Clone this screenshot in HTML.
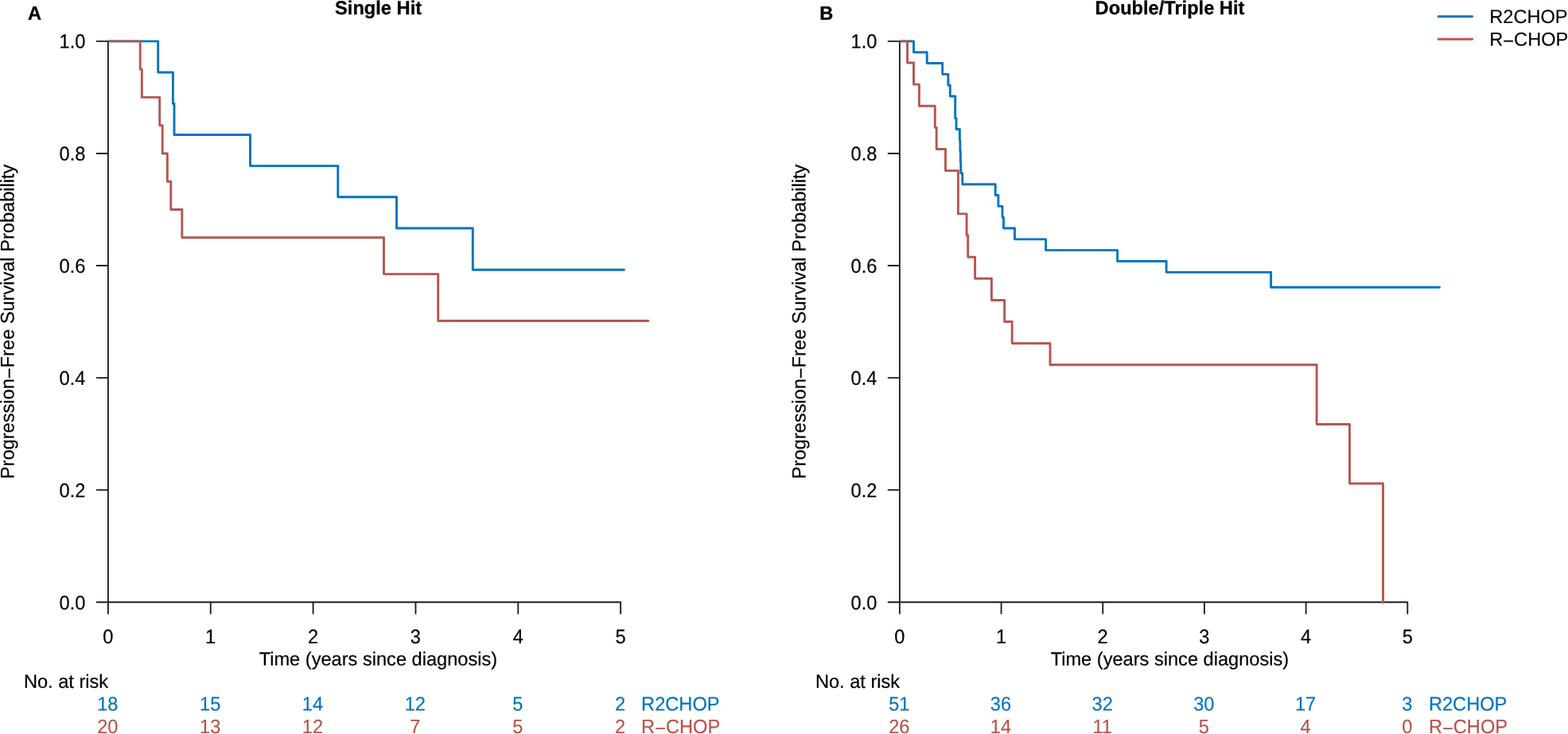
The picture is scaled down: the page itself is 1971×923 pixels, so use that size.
<!DOCTYPE html>
<html lang="en">
<head>
<meta charset="utf-8">
<title>Progression-Free Survival: Single Hit vs Double/Triple Hit</title>
<style>
html,body{margin:0;padding:0;background:#fff;}
body{width:1971px;height:923px;overflow:hidden;}
svg{display:block;}
text{font-family:"Liberation Sans",sans-serif;fill:#000;}
.l{font-size:24.05px;stroke:#000;stroke-width:0.15px;}
.d{font-size:25px;stroke:#000;stroke-width:0.2px;}
.r{font-size:24.7px;stroke:#000;stroke-width:0.2px;}
.t{font-size:23.9px;stroke:#000;stroke-width:0.2px;text-rendering:geometricPrecision;}
.b{font-size:24px;font-weight:bold;stroke:#000;stroke-width:0.3px;}
.m{text-anchor:middle;}
.e{text-anchor:end;}
.blue{fill:#0075BF;stroke:#0075BF;}
.red{fill:#B6564F;stroke:#B6564F;}
.ax{stroke:#1c1c1c;stroke-width:1.85;fill:none;stroke-linecap:round;}
.cb{stroke:#0075BF;stroke-width:2.9;fill:none;stroke-linecap:round;stroke-linejoin:round;}
.cr{stroke:#B6564F;stroke-width:2.9;fill:none;stroke-linecap:round;stroke-linejoin:round;}
</style>
</head>
<body>
<svg width="1971" height="923" viewBox="0 0 1971 923">
<rect x="0" y="0" width="1971" height="923" fill="#ffffff"/>
<g>
<text class="b" transform="translate(35.10,24.80) rotate(0.03) scale(0.985,1)">A</text>
<text class="b m" transform="translate(475.60,17.95) rotate(0.03) scale(0.985,1)">Single Hit</text>
<path class="ax" d="M135.90,51.88 V757.25 M121.60,757.25 H135.90 M121.60,616.18 H135.90 M121.60,475.10 H135.90 M121.60,334.03 H135.90 M121.60,192.95 H135.90 M121.60,51.88 H135.90 M135.90,757.25 H780.15 M135.90,757.25 V771.55 M264.75,757.25 V771.55 M393.60,757.25 V771.55 M522.45,757.25 V771.55 M651.30,757.25 V771.55 M780.15,757.25 V771.55"/>
<text class="d e" transform="translate(107.40,766.50) rotate(0.03) scale(0.945,1)">0.0</text>
<text class="d e" transform="translate(107.40,625.30) rotate(0.03) scale(0.945,1)">0.2</text>
<text class="d e" transform="translate(107.40,484.10) rotate(0.03) scale(0.945,1)">0.4</text>
<text class="d e" transform="translate(107.40,342.90) rotate(0.03) scale(0.945,1)">0.6</text>
<text class="d e" transform="translate(107.40,201.70) rotate(0.03) scale(0.945,1)">0.8</text>
<text class="d e" transform="translate(107.40,60.50) rotate(0.03) scale(0.945,1)">1.0</text>
<text class="d m" transform="translate(135.80,809.00) rotate(0.03) scale(0.945,1)">0</text>
<text class="d m" transform="translate(264.65,809.00) rotate(0.03) scale(0.945,1)">1</text>
<text class="d m" transform="translate(393.50,809.00) rotate(0.03) scale(0.945,1)">2</text>
<text class="d m" transform="translate(522.35,809.00) rotate(0.03) scale(0.945,1)">3</text>
<text class="d m" transform="translate(651.20,809.00) rotate(0.03) scale(0.945,1)">4</text>
<text class="d m" transform="translate(780.05,809.00) rotate(0.03) scale(0.945,1)">5</text>
<text class="t m" transform="translate(475.40,836.80) rotate(0.03) scale(0.988,1)">Time (years since diagnosis)</text>
<text class="t m" transform="translate(17.50,404.40) rotate(-90.03) scale(0.988,1)">Progression<tspan dy="2.3">−</tspan><tspan dy="-2.3">Free Survival Probability</tspan></text>
<clipPath id="clipA"><rect x="136.10" y="0" width="760" height="923"/></clipPath>
<g clip-path="url(#clipA)">
<path class="cb" d="M135.90,51.88 H198.70 V91.07 H217.40 V130.25 H219.00 V169.44 H314.50 V208.63 H424.80 V247.82 H498.50 V287.00 H594.30 V339.25 H784.40"/>
<path class="cr" d="M135.90,51.88 H176.20 V87.15 H178.30 V122.42 H200.70 V157.69 H204.20 V192.95 H210.30 V228.22 H214.80 V263.49 H228.80 V298.76 H482.50 V344.61 H550.70 V403.56 H814.80"/>
</g>
<text class="t" transform="translate(29.90,864.90) rotate(0.03) scale(0.988,1)">No. at risk</text>
<text class="r m blue" transform="translate(135.30,893.50) rotate(0.03) scale(0.957,1)">18</text>
<text class="r m blue" transform="translate(264.15,893.50) rotate(0.03) scale(0.957,1)">15</text>
<text class="r m blue" transform="translate(393.00,893.50) rotate(0.03) scale(0.957,1)">14</text>
<text class="r m blue" transform="translate(521.85,893.50) rotate(0.03) scale(0.957,1)">12</text>
<text class="r m blue" transform="translate(650.70,893.50) rotate(0.03) scale(0.957,1)">5</text>
<text class="r m blue" transform="translate(779.55,893.50) rotate(0.03) scale(0.957,1)">2</text>
<text class="r blue" transform="translate(806.10,893.50) rotate(0.03) scale(0.957,1)">R2CHOP</text>
<text class="r m red" transform="translate(135.30,921.95) rotate(0.03) scale(0.957,1)">20</text>
<text class="r m red" transform="translate(264.15,921.95) rotate(0.03) scale(0.957,1)">13</text>
<text class="r m red" transform="translate(393.00,921.95) rotate(0.03) scale(0.957,1)">12</text>
<text class="r m red" transform="translate(521.85,921.95) rotate(0.03) scale(0.957,1)">7</text>
<text class="r m red" transform="translate(650.70,921.95) rotate(0.03) scale(0.957,1)">5</text>
<text class="r m red" transform="translate(779.55,921.95) rotate(0.03) scale(0.957,1)">2</text>
<text class="r red" transform="translate(806.10,921.95) rotate(0.03) scale(0.957,1)">R<tspan dy="2.2">−</tspan><tspan dy="-2.2">CHOP</tspan></text>
</g>
<g>
<text class="b" transform="translate(1030.30,24.80) rotate(0.03) scale(0.985,1)">B</text>
<text class="b m" transform="translate(1470.50,17.95) rotate(0.03) scale(0.985,1)">Double/Triple Hit</text>
<path class="ax" d="M1130.90,51.88 V757.25 M1116.60,757.25 H1130.90 M1116.60,616.18 H1130.90 M1116.60,475.10 H1130.90 M1116.60,334.03 H1130.90 M1116.60,192.95 H1130.90 M1116.60,51.88 H1130.90 M1130.90,757.25 H1769.30 M1130.90,757.25 V771.55 M1258.58,757.25 V771.55 M1386.26,757.25 V771.55 M1513.94,757.25 V771.55 M1641.62,757.25 V771.55 M1769.30,757.25 V771.55"/>
<text class="d e" transform="translate(1102.40,766.50) rotate(0.03) scale(0.945,1)">0.0</text>
<text class="d e" transform="translate(1102.40,625.30) rotate(0.03) scale(0.945,1)">0.2</text>
<text class="d e" transform="translate(1102.40,484.10) rotate(0.03) scale(0.945,1)">0.4</text>
<text class="d e" transform="translate(1102.40,342.90) rotate(0.03) scale(0.945,1)">0.6</text>
<text class="d e" transform="translate(1102.40,201.70) rotate(0.03) scale(0.945,1)">0.8</text>
<text class="d e" transform="translate(1102.40,60.50) rotate(0.03) scale(0.945,1)">1.0</text>
<text class="d m" transform="translate(1130.80,809.00) rotate(0.03) scale(0.945,1)">0</text>
<text class="d m" transform="translate(1258.48,809.00) rotate(0.03) scale(0.945,1)">1</text>
<text class="d m" transform="translate(1386.16,809.00) rotate(0.03) scale(0.945,1)">2</text>
<text class="d m" transform="translate(1513.84,809.00) rotate(0.03) scale(0.945,1)">3</text>
<text class="d m" transform="translate(1641.52,809.00) rotate(0.03) scale(0.945,1)">4</text>
<text class="d m" transform="translate(1769.20,809.00) rotate(0.03) scale(0.945,1)">5</text>
<text class="t m" transform="translate(1470.40,836.80) rotate(0.03) scale(0.988,1)">Time (years since diagnosis)</text>
<text class="t m" transform="translate(1012.50,404.40) rotate(-90.03) scale(0.988,1)">Progression<tspan dy="2.3">−</tspan><tspan dy="-2.3">Free Survival Probability</tspan></text>
<clipPath id="clipB"><rect x="1131.10" y="0" width="760" height="923"/></clipPath>
<g clip-path="url(#clipB)">
<path class="cb" d="M1130.90,51.88 H1148.50 V65.71 H1165.20 V79.54 H1184.70 V93.37 H1191.90 V107.20 H1194.30 V121.03 H1200.70 V148.70 H1202.00 V162.53 H1206.40 V176.36 H1206.90 V190.19 H1207.40 V204.02 H1207.80 V217.85 H1209.80 V231.68 H1251.20 V245.51 H1254.90 V259.34 H1260.00 V273.17 H1261.50 V287.00 H1275.50 V300.83 H1314.60 V314.66 H1404.60 V328.50 H1466.10 V342.33 H1597.60 V361.18 H1809.50"/>
<path class="cr" d="M1130.90,51.88 H1140.60 V79.01 H1148.50 V106.14 H1155.40 V133.27 H1175.30 V160.40 H1177.20 V187.53 H1188.50 V214.66 H1204.40 V268.92 H1215.10 V296.05 H1216.70 V323.18 H1225.60 V350.31 H1246.40 V377.44 H1262.70 V404.56 H1272.20 V431.69 H1320.00 V458.82 H1655.10 V533.43 H1696.50 V608.04 H1738.50 V757.85"/>
</g>
<text class="t" transform="translate(1024.90,864.90) rotate(0.03) scale(0.988,1)">No. at risk</text>
<text class="r m blue" transform="translate(1130.30,893.50) rotate(0.03) scale(0.957,1)">51</text>
<text class="r m blue" transform="translate(1257.98,893.50) rotate(0.03) scale(0.957,1)">36</text>
<text class="r m blue" transform="translate(1385.66,893.50) rotate(0.03) scale(0.957,1)">32</text>
<text class="r m blue" transform="translate(1513.34,893.50) rotate(0.03) scale(0.957,1)">30</text>
<text class="r m blue" transform="translate(1641.02,893.50) rotate(0.03) scale(0.957,1)">17</text>
<text class="r m blue" transform="translate(1768.70,893.50) rotate(0.03) scale(0.957,1)">3</text>
<text class="r blue" transform="translate(1795.90,893.50) rotate(0.03) scale(0.957,1)">R2CHOP</text>
<text class="r m red" transform="translate(1130.30,921.95) rotate(0.03) scale(0.957,1)">26</text>
<text class="r m red" transform="translate(1257.98,921.95) rotate(0.03) scale(0.957,1)">14</text>
<text class="r m red" transform="translate(1385.66,921.95) rotate(0.03) scale(0.957,1)">11</text>
<text class="r m red" transform="translate(1513.34,921.95) rotate(0.03) scale(0.957,1)">5</text>
<text class="r m red" transform="translate(1641.02,921.95) rotate(0.03) scale(0.957,1)">4</text>
<text class="r m red" transform="translate(1768.70,921.95) rotate(0.03) scale(0.957,1)">0</text>
<text class="r red" transform="translate(1795.90,921.95) rotate(0.03) scale(0.957,1)">R<tspan dy="2.2">−</tspan><tspan dy="-2.2">CHOP</tspan></text>
</g>
<g>
<path class="cb" d="M1808.2,20.75 H1850.6"/>
<path class="cr" d="M1808.2,49.2 H1850.6"/>
<text class="l" transform="translate(1872.30,28.95) rotate(0.03) scale(0.981,1)">R2CHOP</text>
<text class="l" transform="translate(1872.30,57.45) rotate(0.03) scale(0.981,1)">R<tspan dy="2.2">−</tspan><tspan dy="-2.2">CHOP</tspan></text>
</g>
</svg>
</body>
</html>
